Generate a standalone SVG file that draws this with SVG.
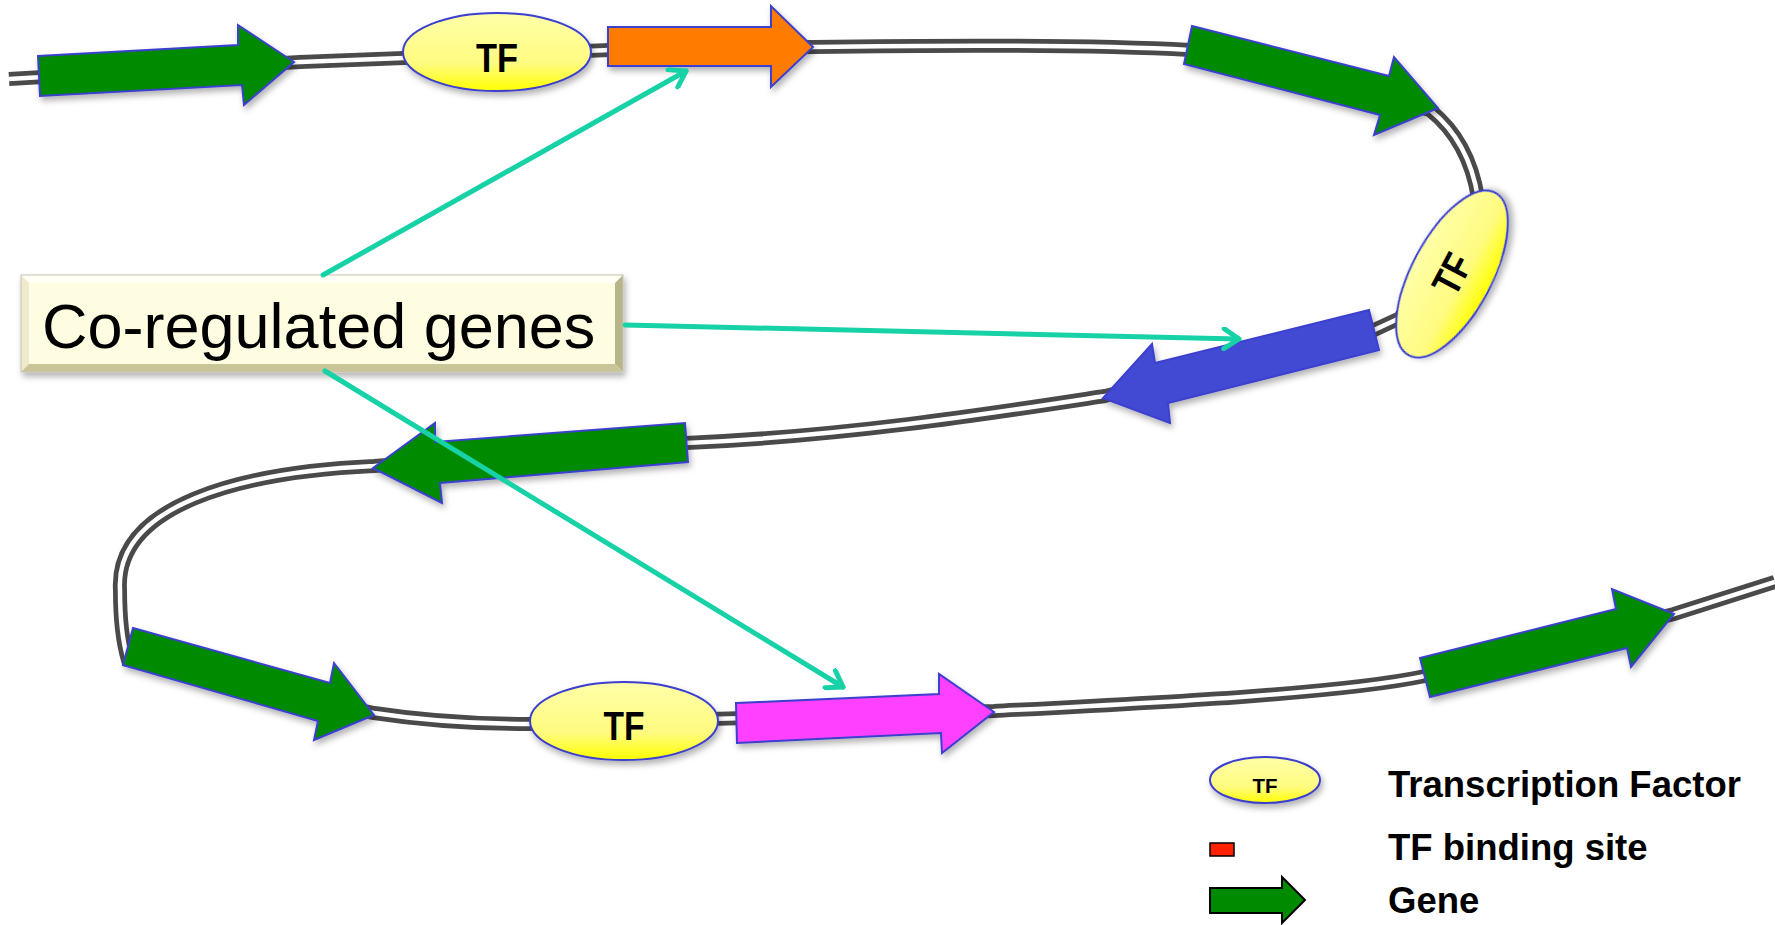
<svg xmlns="http://www.w3.org/2000/svg" width="1775" height="925" viewBox="0 0 1775 925">
<defs>
<style>
.gene{stroke:#3b3fcf;stroke-width:2;stroke-linejoin:miter;filter:url(#sh)}
.tf{stroke:#3b3fcf;stroke-width:2;fill:url(#yg);filter:url(#sh)}
.tft{font-family:"Liberation Sans",Arial,sans-serif;font-weight:bold;fill:#000;text-anchor:middle}
.leg{font-family:"Liberation Sans",Arial,sans-serif;font-weight:bold;font-size:36.5px;fill:#000}
.con{stroke:#17d1a7;stroke-width:5;fill:none;stroke-linecap:round;marker-end:url(#ah)}
</style>
<linearGradient id="yg" x1="0" y1="0" x2="0" y2="1">
<stop offset="0" stop-color="#ffffa8"/>
<stop offset="0.65" stop-color="#fffb80"/>
<stop offset="1" stop-color="#ffff00"/>
</linearGradient>
<filter id="sh" x="-10%" y="-10%" width="130%" height="140%">
<feDropShadow dx="2" dy="4" stdDeviation="3" flood-color="#000" flood-opacity="0.3"/>
</filter>
<marker id="ah" markerUnits="userSpaceOnUse" markerWidth="24" markerHeight="24" viewBox="0 0 24 24" refX="20" refY="12" orient="auto">
<path d="M5,2 L20,12 L5,22" fill="none" stroke="#17d1a7" stroke-width="5" stroke-linecap="round" stroke-linejoin="round"/>
</marker>
</defs>
<rect width="1775" height="925" fill="#fff"/>

<g id="dna">
<path d="M9,79 L300,62 L404,58 L610,50 L813,47 C950,45 1100,45 1190,50 L1430,110 C1455,130 1472,160 1478,198 L1400,318 L1374,330 L1105,396 C1000,412 850,436 686,443 L374,466 C240,472 115,505 120,590 C120,620 122,640 128,660 L374,713 C420,720 470,724 530,724 L994,711 C1150,703 1340,694 1425,676 L1674,614 L1775,582" fill="none" stroke="#4a4a4a" stroke-width="14"/>
<path d="M9,79 L300,62 L404,58 L610,50 L813,47 C950,45 1100,45 1190,50 L1430,110 C1455,130 1472,160 1478,198 L1400,318 L1374,330 L1105,396 C1000,412 850,436 686,443 L374,466 C240,472 115,505 120,590 C120,620 122,640 128,660 L374,713 C420,720 470,724 530,724 L994,711 C1150,703 1340,694 1425,676 L1674,614 L1775,582" fill="none" stroke="#fff" stroke-width="4.5"/>
</g>

<g id="gene1"><polygon class="gene" fill="#008a00" points="38,56 238,45 238,25 294,62 244,105 242,85 40,96"/></g>
<g id="tf1"><ellipse class="tf" cx="497" cy="52" rx="94" ry="39"/><text class="tft" x="497" y="72" font-size="41" textLength="42" lengthAdjust="spacingAndGlyphs">TF</text></g>
<g id="gene-orange"><polygon class="gene" fill="#ff7b00" points="608,27 771,27 771,6 813,47 771,87 771,66 608,66"/></g>
<g id="gene2"><polygon class="gene" fill="#008a00" points="1192,26 1389,76 1394,57 1438,108 1374,135 1380,115 1184,64"/></g>
<g id="tf2" transform="translate(1452,274) rotate(-62)"><ellipse class="tf" cx="0" cy="0" rx="92" ry="40"/><text class="tft" x="0" y="14" font-size="40" textLength="40" lengthAdjust="spacingAndGlyphs">TF</text></g>
<g id="gene-blue"><polygon class="gene" fill="#434ad2" stroke="#434ad2" points="1369,310 1379,350 1168,403 1170,423 1103,398 1152,344 1155,363"/></g>
<g id="gene3"><polygon class="gene" fill="#008a00" points="685,423 688,462 440,483 442,503 373,468 435,423 435,442"/></g>
<g id="gene4"><polygon class="gene" fill="#008a00" points="133,628 330,683 334,663 374,715 314,740 318,721 123,665"/></g>
<g id="tf3"><ellipse class="tf" cx="624" cy="721" rx="94" ry="39"/><text class="tft" x="624" y="740" font-size="40" textLength="41" lengthAdjust="spacingAndGlyphs">TF</text></g>
<g id="gene-magenta"><polygon class="gene" fill="#ff40ff" points="736,703 939,694 939,674 994,712 942,753 941,733 737,743"/></g>
<g id="gene5"><polygon class="gene" fill="#008a00" points="1420,658 1616,609 1612,589 1674,614 1631,667 1627,648 1430,697"/></g>

<g id="coreg">
<g filter="url(#sh)">
<rect x="21" y="275" width="602" height="97" fill="#fffde1"/>
<polygon points="21,275 623,275 615,283 29,283" fill="#fffff5"/>
<polygon points="21,275 29,283 29,364 21,372" fill="#eeeacb"/>
<polygon points="623,275 623,372 615,364 615,283" fill="#b9b58a"/>
<polygon points="21,372 623,372 615,364 29,364" fill="#c9c598"/>
<rect x="21" y="275" width="602" height="97" fill="none" stroke="#c4c4b4" stroke-width="1"/>
</g>
<text x="42" y="348" font-family="'Liberation Sans',Arial,sans-serif" font-size="63" fill="#000">Co-regulated genes</text>
</g>

<g id="connectors">
<line class="con" x1="323" y1="275" x2="686" y2="71"/>
<line class="con" x1="625" y1="325" x2="1239" y2="339"/>
<line class="con" x1="325" y1="371" x2="843" y2="687"/>
</g>

<g id="legend">
<g id="legend-tf"><ellipse class="tf" cx="1265" cy="780" rx="55" ry="23"/><text class="tft" x="1265" y="793" font-size="21" textLength="25" lengthAdjust="spacingAndGlyphs">TF</text></g>
<text class="leg" x="1388" y="797">Transcription Factor</text>
<g id="legend-site"><rect x="1210" y="843" width="24" height="13" fill="#ff2200" stroke="#000" stroke-width="1.5"/></g>
<text class="leg" x="1388" y="860">TF binding site</text>
<g id="legend-gene"><polygon points="1210,888 1282,888 1282,877 1305,900 1282,923 1282,913 1210,913" fill="#008a00" stroke="#000" stroke-width="2"/></g>
<text class="leg" x="1388" y="913">Gene</text>
</g>
</svg>
